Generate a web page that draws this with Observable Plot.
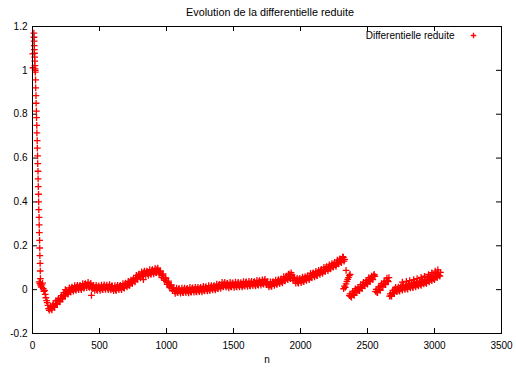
<!DOCTYPE html>
<html>
<head>
<meta charset="utf-8">
<script src="https://cdn.jsdelivr.net/npm/d3@7"></script>
<script src="https://cdn.jsdelivr.net/npm/@observablehq/plot@0.6"></script>
<style>
  html, body { margin: 0; padding: 0; background: #fff; }
  #chart svg { display: block; }
</style>
</head>
<body>
<div id="chart"></div>
<script>
// ---- texts and ticks ----
const title = "Evolution de la differentielle reduite";
const seriesName = "Differentielle reduite";
const xLabel = "n";
const xTicks = [0, 500, 1000, 1500, 2000, 2500, 3000, 3500];
const xTickLabels = ["0", "500", "1000", "1500", "2000", "2500", "3000", "3500"];
const yTicks = [-0.2, 0, 0.2, 0.4, 0.6, 0.8, 1, 1.2];
const yTickLabels = ["-0.2", "0", "0.2", "0.4", "0.6", "0.8", "1", "1.2"];

// ---- first iterations: fall from about 1.17 down to 0 ----
const descentN = [2, 4, 10, 11, 12, 13, 14, 15, 16, 17, 18, 19, 20, 21, 23, 24, 26, 27, 29, 30, 32,
  33, 35, 36, 38, 39, 41, 42, 43, 45, 46, 47, 49, 50, 51, 53, 54, 55, 57, 58, 59];
const descentValues = [1.075, 1.012, 1.170, 1.151, 1.133, 1.113, 1.095, 1.078, 1.060, 1.042, 1.022,
  1.007, 1.000, 0.992, 0.957, 0.920, 0.885, 0.850, 0.814, 0.784, 0.749,
  0.715, 0.680, 0.645, 0.610, 0.575, 0.540, 0.505, 0.470, 0.435, 0.400,
  0.365, 0.330, 0.295, 0.260, 0.225, 0.190, 0.155, 0.120, 0.085, 0.050];

// extra samples around the first dip
const earlyN = [55, 65, 75, 85, 95, 105, 115, 125];
const earlyValues = [0.028, 0.012, 0.030, -0.008, -0.022, -0.050, -0.072, -0.094];

// ---- main run, every 10 iterations from n = 50 to n = 2330 ----
const runStep = 10;
const runStart = 50;
const runValues = [
  0.035, 0.021, 0.022, 0.004, -0.003, -0.037, -0.059, -0.087, -0.084, -0.088,
  -0.073, -0.076, -0.064, -0.066, -0.047, -0.050, -0.041, -0.042, -0.024, -0.025,
  -0.011, -0.015, -0.005, -0.009, 0.007, 0.001, 0.006, 0.000, 0.012, 0.006,
  0.015, 0.007, 0.015, 0.009, 0.024, 0.017, 0.022, 0.014, 0.023, 0.013,
  0.017, 0.005, 0.009, 0.000, 0.013, 0.005, 0.009, 0.002, 0.014, 0.008,
  0.016, 0.008, 0.014, 0.005, 0.016, 0.005, 0.007, -0.001, 0.012, 0.006,
  0.015, 0.007, 0.015, 0.009, 0.025, 0.019, 0.025, 0.020, 0.035, 0.032,
  0.045, 0.041, 0.052, 0.049, 0.066, 0.061, 0.068, 0.063, 0.077, 0.072,
  0.081, 0.073, 0.080, 0.073, 0.087, 0.080, 0.085, 0.079, 0.092, 0.082,
  0.084, 0.067, 0.065, 0.049, 0.054, 0.037, 0.032, 0.016, 0.019, 0.005,
  0.007, -0.007, -0.004, -0.012, 0.002, -0.007, -0.004, -0.012, 0.000, -0.007,
  0.001, -0.007, -0.001, -0.009, 0.005, -0.004, 0.000, -0.008, 0.004, -0.003,
  0.006, -0.003, 0.004, -0.004, 0.010, 0.002, 0.006, -0.001, 0.011, 0.005,
  0.014, 0.006, 0.013, 0.006, 0.020, 0.013, 0.020, 0.016, 0.026, 0.018,
  0.026, 0.016, 0.022, 0.014, 0.028, 0.019, 0.022, 0.015, 0.026, 0.019,
  0.028, 0.019, 0.026, 0.018, 0.032, 0.023, 0.027, 0.019, 0.031, 0.024,
  0.033, 0.024, 0.031, 0.023, 0.037, 0.029, 0.033, 0.027, 0.040, 0.032,
  0.035, 0.021, 0.024, 0.017, 0.033, 0.027, 0.032, 0.026, 0.039, 0.033,
  0.043, 0.037, 0.046, 0.041, 0.057, 0.052, 0.070, 0.053, 0.077, 0.052,
  0.054, 0.040, 0.042, 0.033, 0.047, 0.040, 0.045, 0.039, 0.052, 0.047,
  0.058, 0.052, 0.061, 0.056, 0.072, 0.066, 0.071, 0.065, 0.079, 0.075,
  0.086, 0.080, 0.089, 0.084, 0.100, 0.094, 0.100, 0.096, 0.110, 0.107,
  0.118, 0.112, 0.122, 0.118, 0.135, 0.130, 0.137, 0.147, 0.138
];
// the iterations in between (n = 135, 145, ... 2325)
const runBStart = 135;
const runBValues = [
  -0.076, -0.092, -0.066, -0.081, -0.050, -0.066, -0.041, -0.056, -0.027, -0.042,
  -0.014, -0.029, -0.005, -0.021, 0.008, -0.011, 0.012, -0.007, 0.018, -0.002,
  0.020, 0.000, 0.020, 0.000, 0.027, 0.007, 0.028, 0.009, 0.033, 0.010,
  0.029, 0.004, 0.020, -0.004, 0.020, -0.003, 0.017, -0.003, 0.021, 0.000,
  0.022, 0.001, 0.021, 0.000, 0.023, -0.001, 0.017, -0.005, 0.018, -0.003,
  0.020, 0.000, 0.020, 0.000, 0.027, 0.007, 0.030, 0.012, 0.038, 0.019,
  0.044, 0.027, 0.051, 0.035, 0.065, 0.048, 0.071, 0.054, 0.081, 0.062,
  0.085, 0.065, 0.085, 0.065, 0.091, 0.070, 0.091, 0.072, 0.097, 0.077,
  0.098, 0.072, 0.084, 0.055, 0.072, 0.042, 0.053, 0.024, 0.039, 0.009,
  0.022, -0.005, 0.008, -0.017, 0.007, -0.014, 0.005, -0.016, 0.007, -0.014,
  0.007, -0.014, 0.006, -0.015, 0.010, -0.011, 0.008, -0.012, 0.011, -0.010,
  0.011, -0.009, 0.010, -0.010, 0.015, -0.006, 0.014, -0.006, 0.018, -0.003,
  0.019, -0.001, 0.019, -0.001, 0.025, 0.004, 0.024, 0.006, 0.033, 0.013,
  0.033, 0.011, 0.029, 0.008, 0.033, 0.012, 0.031, 0.010, 0.034, 0.012,
  0.033, 0.013, 0.032, 0.012, 0.037, 0.016, 0.035, 0.015, 0.038, 0.017,
  0.038, 0.018, 0.037, 0.017, 0.042, 0.021, 0.041, 0.021, 0.045, 0.025,
  0.047, 0.023, 0.037, 0.012, 0.035, 0.015, 0.037, 0.019, 0.044, 0.024,
  0.046, 0.027, 0.049, 0.031, 0.059, 0.040, 0.062, 0.045, 0.071, 0.050,
  0.068, 0.042, 0.056, 0.030, 0.052, 0.030, 0.051, 0.032, 0.057, 0.037,
  0.060, 0.042, 0.064, 0.046, 0.074, 0.055, 0.077, 0.058, 0.083, 0.064,
  0.088, 0.070, 0.092, 0.074, 0.102, 0.083, 0.105, 0.087, 0.113, 0.095,
  0.119, 0.102, 0.124, 0.106, 0.135, 0.117, 0.140, 0.123, 0.150, 0.130
];

// cluster right after the drop near n = 2330
const breakN = [2322, 2328, 2334, 2340, 2346, 2352, 2358, 2364, 2370];
const breakValues = [0.004, 0.016, 0.010, 0.026, 0.038, 0.047, 0.055, 0.064, 0.070];

// three later runs (two interleaved passes each)
const run2Start = 2365;
const run2Values = [-0.027, -0.031, -0.020, -0.023, -0.005, -0.009, -0.001, -0.003, 0.013, 0.011,
  0.024, 0.020, 0.031, 0.028, 0.046, 0.042, 0.051, 0.048, 0.064, 0.061];
const run2BStart = 2370;
const run2BValues = [-0.019, -0.034, -0.010, -0.026, 0.004, -0.013, 0.011, -0.005, 0.023, 0.006,
  0.033, 0.017, 0.041, 0.025, 0.055, 0.038, 0.062, 0.046, 0.070];
const run3Start = 2560;
const run3Values = [-0.008, -0.011, 0.002, 0.000, 0.019, 0.017, 0.026, 0.024, 0.042, 0.041, 0.055];
const run3BStart = 2565;
const run3BValues = [0.001, -0.014, 0.012, -0.003, 0.028, 0.013, 0.038, 0.023, 0.053, 0.037];
const run4Start = 2665;
const run4Values = [-0.030, -0.029, -0.014, -0.015, 0.003, -0.003, 0.002, -0.004, 0.009, 0.004,
  0.014, 0.006, 0.014, 0.007, 0.022, 0.014, 0.019, 0.012, 0.025, 0.019,
  0.029, 0.022, 0.030, 0.024, 0.039, 0.032, 0.037, 0.032, 0.045, 0.041,
  0.052, 0.046, 0.055, 0.050, 0.066, 0.061, 0.068, 0.064, 0.079];
const run4BStart = 2670;
const run4BValues = [-0.019, -0.030, -0.003, -0.018, 0.011, -0.009, 0.012, -0.007, 0.018, -0.002,
  0.020, 0.001, 0.021, 0.002, 0.028, 0.008, 0.028, 0.009, 0.033, 0.013,
  0.036, 0.017, 0.038, 0.019, 0.046, 0.026, 0.047, 0.029, 0.054, 0.035,
  0.059, 0.041, 0.063, 0.045, 0.074, 0.056, 0.079, 0.062];

// scattered points above the last run
const upperN = [2760, 2790, 2815, 2845, 2870, 2900, 2925, 2955, 2980, 3005, 3025];
const upperValues = [0.034, 0.038, 0.041, 0.046, 0.050, 0.056, 0.061, 0.069, 0.077, 0.084, 0.090];

// isolated points
const strayN = [245, 440, 828, 2340];
const strayValues = [0.000, -0.026, 0.046, 0.088];

// ---- assemble the (n, value) table ----
const points = [];
const addPairs = (ns, vs) => ns.forEach((n, i) => points.push({n, v: vs[i]}));
const addRun = (start, vs) => vs.forEach((v, i) => points.push({n: start + i * runStep, v}));
addPairs(descentN, descentValues);
addPairs(earlyN, earlyValues);
addRun(runStart, runValues);
addRun(runBStart, runBValues);
addPairs(breakN, breakValues);
addRun(run2Start, run2Values);
addRun(run2BStart, run2BValues);
addRun(run3Start, run3Values);
addRun(run3BStart, run3BValues);
addRun(run4Start, run4Values);
addRun(run4BStart, run4BValues);
addPairs(upperN, upperValues);
addPairs(strayN, strayValues);

// ---- layout ----
const width = 516, height = 368;
const margin = {top: 26, right: 15, bottom: 35, left: 32};
const plotW = width - margin.left - margin.right;
const plotH = height - margin.top - margin.bottom;
const tickLen = 5;
const font = "'Liberation Sans', Arial, Helvetica, sans-serif";
const red = "#ff0000";

const chart = Plot.plot({
  width, height,
  marginTop: margin.top, marginRight: margin.right,
  marginBottom: margin.bottom, marginLeft: margin.left,
  style: {fontFamily: font, fontSize: "10px", background: "#fff", color: "#000"},
  x: {domain: [0, 3500]},
  y: {domain: [-0.2, 1.2]},
  marks: [
    // inward ticks on all four sides
    Plot.ruleX(xTicks, {x: d => d, insetTop: plotH - tickLen, stroke: "#000"}),
    Plot.ruleX(xTicks, {x: d => d, insetBottom: plotH - tickLen, stroke: "#000"}),
    Plot.ruleY(yTicks, {y: d => d, insetRight: plotW - tickLen, stroke: "#000"}),
    Plot.ruleY(yTicks, {y: d => d, insetLeft: plotW - tickLen, stroke: "#000"}),
    Plot.axisX(xTicks, {tickSize: 0, tickPadding: 8, label: null, fontSize: 10,
      tickFormat: d => xTickLabels[xTicks.indexOf(d)]}),
    Plot.axisY(yTicks, {tickSize: 0, tickPadding: 5, label: null, fontSize: 10,
      tickFormat: d => yTickLabels[yTicks.indexOf(d)]}),
    // the series
    Plot.dot(points, {x: "n", y: "v", symbol: "plus", r: 2.3, stroke: red, strokeWidth: 1.3}),
    Plot.frame({stroke: "#000"}),
    // title, axis label and key
    Plot.text([title], {text: d => d, frameAnchor: "top", dx: 3, dy: -14,
      lineAnchor: "middle", fontSize: 10.8}),
    Plot.text([xLabel], {text: d => d, frameAnchor: "bottom", dy: 26,
      lineAnchor: "middle", fontSize: 10}),
    Plot.text([seriesName], {text: d => d, frameAnchor: "top-right", dx: -47, dy: 9,
      textAnchor: "end", lineAnchor: "middle", fontSize: 10}),
    Plot.dot([0], {frameAnchor: "top-right", dx: -28, dy: 9,
      symbol: "plus", r: 1.9, stroke: red, strokeWidth: 1.3})
  ]
});

document.getElementById("chart").appendChild(chart);
</script>
</body>
</html>
